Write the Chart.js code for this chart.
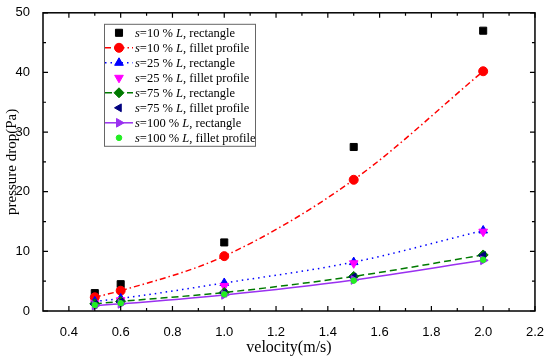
<!DOCTYPE html>
<html>
<head>
<meta charset="utf-8">
<script src="https://cdn.jsdelivr.net/npm/chart.js@4/dist/chart.umd.min.js"></script>
<style>
  body { margin: 0; background: #fff; }
  #wrap { width: 550px; height: 359px; }
</style>
</head>
<body>
<div id="wrap"><canvas id="chartPressure"></canvas></div>
<script>
// values
const velocity = [0.5, 0.6, 1.0, 1.5, 2.0];
const s10Rect = [3.0, 4.5, 11.5, 27.5, 47.0];
const s10Fillet = [2.3, 3.4, 9.2, 22.0, 40.2];
const s25Rect = [1.6, 2.1, 4.7, 8.2, 13.5];
const s25Fillet = [1.3, 1.8, 4.2, 8.0, 13.3];
const s75Rect = [1.2, 1.6, 3.1, 5.8, 9.4];
const s75Fillet = [1.1, 1.5, 3.0, 5.7, 9.3];
const s100Rect = [0.9, 1.2, 2.7, 5.2, 8.5];
const s100Fillet = [1.0, 1.3, 2.8, 5.1, 8.6];

const seriesLabels = [
  's=10 % L, rectangle',
  's=10 % L, fillet profile',
  's=25 % L, rectangle',
  's=25 % L, fillet profile',
  's=75 % L, rectangle',
  's=75 % L, fillet profile',
  's=100 % L, rectangle',
  's=100 % L, fillet profile'
];
const xMinorTicks = [0.4, 0.5, 0.6, 0.7, 0.8, 0.9, 1.0, 1.1, 1.2, 1.3, 1.4, 1.5, 1.6, 1.7, 1.8, 1.9, 2.0, 2.1, 2.2];
const yMinorTicks = [0, 5, 10, 15, 20, 25, 30, 35, 40, 45, 50];

function toPoints(values) {
  return velocity.map((v, i) => ({ x: v, y: values[i] }));
}

function makeSet(i, values, opts) {
  return Object.assign({
    label: seriesLabels[i],
    data: toPoints(values),
    showLine: false,
    borderWidth: 1.5,
    pointBorderWidth: 1,
    order: 8 - i
  }, opts);
}

const datasets = [
  makeSet(0, s10Rect, { pointStyle: 'rect', pointRadius: 5, backgroundColor: '#000', borderColor: '#000' }),
  makeSet(1, s10Fillet, { pointStyle: 'circle', pointRadius: 4.5, backgroundColor: '#ff0000', borderColor: '#ff0000',
    showLine: true, borderDash: [6, 3, 1.5, 3], cubicInterpolationMode: 'monotone' }),
  makeSet(2, s25Rect, { pointStyle: 'triangle', pointRadius: 5, backgroundColor: '#0000ff', borderColor: '#0000ff',
    showLine: true, borderDash: [1.5, 4], cubicInterpolationMode: 'monotone' }),
  makeSet(3, s25Fillet, { pointStyle: 'triangle', pointRotation: 180, pointRadius: 5, backgroundColor: '#ff00ff', borderColor: '#ff00ff' }),
  makeSet(4, s75Rect, { pointStyle: 'rectRot', pointRadius: 5, backgroundColor: '#007a00', borderColor: '#007a00',
    showLine: true, borderDash: [7, 4], cubicInterpolationMode: 'monotone' }),
  makeSet(5, s75Fillet, { pointStyle: 'triangle', pointRotation: 270, pointRadius: 4.5, backgroundColor: '#00007f', borderColor: '#00007f' }),
  makeSet(6, s100Rect, { pointStyle: 'triangle', pointRotation: 90, pointRadius: 5, backgroundColor: '#9a30f0', borderColor: '#9a30f0',
    showLine: true, cubicInterpolationMode: 'monotone' }),
  makeSet(7, s100Fillet, { pointStyle: 'circle', pointRadius: 2.8, backgroundColor: '#22ee22', borderColor: '#22ee22' })
];

function drawFrame(chart) {
  const ctx = chart.ctx;
  const a = chart.chartArea;
  const xs = chart.scales.x, ys = chart.scales.y;
  ctx.save();
  ctx.strokeStyle = 'black';
  ctx.lineWidth = 1.5;
  ctx.strokeRect(a.left, a.top, a.right - a.left, a.bottom - a.top);
  ctx.lineWidth = 1.2;
  ctx.beginPath();
  xMinorTicks.forEach((v, k) => {
    const len = k % 2 === 0 ? 5 : 3;
    const px = xs.getPixelForValue(v);
    ctx.moveTo(px, a.bottom); ctx.lineTo(px, a.bottom - len);
    ctx.moveTo(px, a.top); ctx.lineTo(px, a.top + len);
  });
  yMinorTicks.forEach((v, k) => {
    const len = k % 2 === 0 ? 5 : 3;
    const py = ys.getPixelForValue(v);
    ctx.moveTo(a.left, py); ctx.lineTo(a.left + len, py);
    ctx.moveTo(a.right, py); ctx.lineTo(a.right - len, py);
  });
  ctx.stroke();
  ctx.restore();
}

function drawLegend(chart) {
  const ctx = chart.ctx;
  const a = chart.chartArea;
  const bx = a.left + 61, by = a.top + 11, bw = 151, bh = 122;
  ctx.save();
  ctx.fillStyle = '#fff';
  ctx.fillRect(bx, by, bw, bh);
  ctx.strokeStyle = '#666';
  ctx.lineWidth = 1;
  ctx.strokeRect(bx + 0.5, by + 0.5, bw, bh);
  chart.data.datasets.forEach((ds, i) => {
    const y = by + 9 + i * 15;
    const mx = bx + 15;
    if (ds.showLine) {
      ctx.strokeStyle = ds.borderColor;
      ctx.lineWidth = 1.5;
      ctx.setLineDash(ds.borderDash || []);
      ctx.beginPath();
      ctx.moveTo(bx + 1, y);
      ctx.lineTo(bx + 29, y);
      ctx.stroke();
      ctx.setLineDash([]);
    }
    ctx.fillStyle = ds.backgroundColor;
    ctx.strokeStyle = ds.borderColor;
    ctx.lineWidth = 1;
    Chart.helpers.drawPoint(ctx, {
      pointStyle: ds.pointStyle,
      rotation: ds.pointRotation || 0,
      radius: ds.pointRadius,
      borderWidth: 1
    }, mx, y);
    // text, with s and L in italics
    let tx = bx + 31;
    ctx.fillStyle = '#000';
    ctx.textBaseline = 'middle';
    const parts = ds.label.split(/(^s|L(?=,))/).filter(p => p);
    parts.forEach(p => {
      const italic = p === 's' || p === 'L';
      ctx.font = (italic ? 'italic ' : '') + '12.5px "Liberation Serif"';
      ctx.fillText(p, tx, y + 0.5);
      tx += ctx.measureText(p).width;
    });
  });
  ctx.restore();
}

const decorPlugin = {
  id: 'plotDecor',
  afterDraw(chart) {
    drawLegend(chart);
    drawFrame(chart);
  }
};

const config = {
  type: 'scatter',
  data: { datasets: datasets },
  options: {
    responsive: true,
    maintainAspectRatio: false,
    animation: false,
    layout: { padding: { top: 9, right: 12 } },
    plugins: {
      legend: { display: false }
    },
    scales: {
      x: {
        min: 0.3,
        max: 2.2,
        afterFit: (scale) => { scale.height = 48; },
        grid: { display: false },
        border: { display: false },
        ticks: {
          stepSize: 0.2,
          includeBounds: false,
          padding: 6,
          color: '#000',
          font: { family: '"Liberation Sans"', size: 13 },
          callback: (v) => Number(v).toFixed(1)
        },
        title: {
          display: true,
          text: 'velocity(m/s)',
          color: '#000',
          font: { family: '"Liberation Serif"', size: 16 },
          padding: { top: 0, bottom: 2 }
        }
      },
      y: {
        min: 0,
        max: 50,
        afterFit: (scale) => { scale.width = 43; },
        grid: { display: false },
        border: { display: false },
        ticks: {
          stepSize: 10,
          padding: 5,
          color: '#000',
          font: { family: '"Liberation Sans"', size: 13 }
        },
        title: {
          display: true,
          text: 'pressure drop(Pa)',
          color: '#000',
          font: { family: '"Liberation Serif"', size: 15 },
          padding: { top: 3, bottom: 0 }
        }
      }
    }
  },
  plugins: [decorPlugin]
};

const chartPressure = new Chart(document.getElementById('chartPressure'), config);
</script>
</body>
</html>
